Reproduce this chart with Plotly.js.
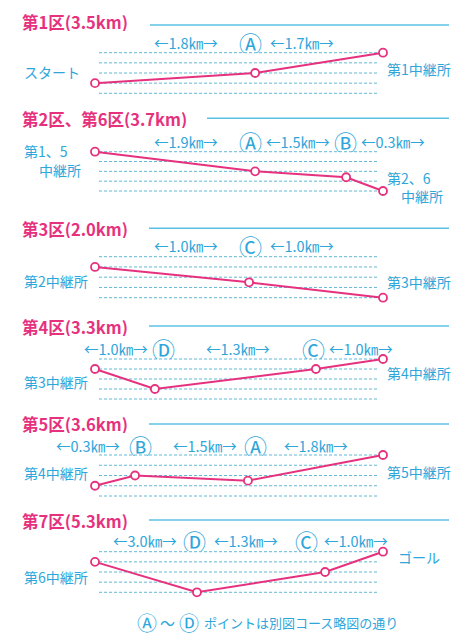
<!DOCTYPE html>
<html><head><meta charset="utf-8">
<script src="https://cdn.plot.ly/plotly-3.0.1.min.js"></script>
<style>html,body{margin:0;padding:0;background:#fff}#chart{width:474px;height:636px}</style>
</head><body><div id="chart"></div>
<script>
// ---- data ----
const sectionTitles = ['第1区(3.5km)', '第2区、第6区(3.7km)', '第3区(2.0km)', '第4区(3.3km)', '第5区(3.6km)', '第7区(5.3km)'];
const levels = [0, 1, 2, 3, 4];
// schematic position along each leg (0 = start, 1 = finish) and elevation level
const pos1 = [0, 0.556, 1];          const elev1 = [1, 2, 4];
const pos2 = [0, 0.556, 0.872, 1];   const elev2 = [4, 2, 1.4, 0];
const pos3 = [0, 0.535, 1];          const elev3 = [3, 1.5, 0];
const pos4 = [0, 0.208, 0.767, 1];   const elev4 = [3, 1, 3, 4];
const pos5 = [0, 0.139, 0.531, 1];   const elev5 = [1, 2, 1.5, 4];
const pos6 = [0, 0.354, 0.799, 1];   const elev6 = [3, 0, 2, 4];
const startLabels = [['スタート'], ['第1、5', '中継所'], ['第2中継所'], ['第3中継所'], ['第4中継所'], ['第6中継所']];
const endLabels = [['第1中継所'], ['第2、6', '中継所'], ['第3中継所'], ['第4中継所'], ['第5中継所'], ['ゴール']];
const segs1 = ['←1.8㎞→', 'Ⓐ', '←1.7㎞→'];
const segs2 = ['←1.9㎞→', 'Ⓐ', '←1.5㎞→', 'Ⓑ', '←0.3㎞→'];
const segs3 = ['←1.0㎞→', 'Ⓒ', '←1.0㎞→'];
const segs4 = ['←1.0㎞→', 'Ⓓ', '←1.3㎞→', 'Ⓒ', '←1.0㎞→'];
const segs5 = ['←0.3㎞→', 'Ⓑ', '←1.5㎞→', 'Ⓐ', '←1.8㎞→'];
const segs6 = ['←3.0㎞→', 'Ⓓ', '←1.3㎞→', 'Ⓒ', '←1.0㎞→'];
const footParts = ['Ⓐ', '〜', 'Ⓓ', 'ポイントは別図コース略図の通り'];

// ---- layout (pixel geometry) ----
const W = 474, H = 636;
const PX = x => x / W, PY = y => 1 - y / H;
const PINK = '#e6317e', BLUE = '#2ea6da', LINEBLUE = '#5cc0e4', DASH = '#62b9d6';
const FONT = '"Noto Sans CJK JP", "Noto Sans", sans-serif';
const panels = [
  {pos: pos1, elev: elev1, segs: segs1, top: 52.7, bot: 93.3, titleY: 22, lineX0: 150, lineY: 25, segY: 42,
   segX: [153, 250, 269], startXY: [[23, 71.7]], endXY: [[386, 69]]},
  {pos: pos2, elev: elev2, segs: segs2, top: 151.7, bot: 191, titleY: 119, lineX0: 207, lineY: 118.3, segY: 140.7,
   segX: [153, 250, 265, 345, 360], startXY: [[23, 151], [38, 169.5]], endXY: [[386, 178], [400, 196]]},
  {pos: pos3, elev: elev3, segs: segs3, top: 256.7, bot: 297.7, titleY: 229, lineX0: 149, lineY: 228.3, segY: 245,
   segX: [153, 250, 269], startXY: [[23, 281]], endXY: [[386, 282]]},
  {pos: pos4, elev: elev4, segs: segs4, top: 359, bot: 399, titleY: 326.7, lineX0: 149, lineY: 326, segY: 348,
   segX: [83, 163, 205, 313, 328], startXY: [[23, 382]], endXY: [[386, 373]]},
  {pos: pos5, elev: elev5, segs: segs5, top: 455, bot: 496, titleY: 424, lineX0: 149, lineY: 424, segY: 445,
   segX: [55, 140, 172, 256, 283], startXY: [[23, 473]], endXY: [[386, 472]]},
  {pos: pos6, elev: elev6, segs: segs6, top: 551.7, bot: 592.3, titleY: 520.7, lineX0: 149, lineY: 520, segY: 540,
   segX: [112, 194, 213, 306, 323], startXY: [[23, 576.7]], endXY: [[397, 556.7]]}
];
const X0 = 95, X1 = 383, GX0 = 99, GX1 = 378, PADX = 8;

const data = [], annotations = [], shapes = [];
const layout = {
  width: W, height: H, margin: {l: 0, r: 0, t: 0, b: 0},
  paper_bgcolor: '#fff', plot_bgcolor: 'rgba(0,0,0,0)', showlegend: false,
  font: {family: FONT}
};
const toU = px => (px - X0) / (X1 - X0);

panels.forEach((p, i) => {
  const n = i + 1, sx = n === 1 ? '' : n;
  const s = (p.bot - p.top) / 4;
  layout['xaxis' + sx] = {
    domain: [PX(X0 - PADX), PX(X1 + PADX)], range: [toU(X0 - PADX), toU(X1 + PADX)],
    visible: false, fixedrange: true, anchor: 'y' + sx
  };
  layout['yaxis' + sx] = {
    domain: [PY(p.bot + s), PY(p.top - s)], range: [-1, 5],
    visible: false, fixedrange: true, anchor: 'x' + sx
  };
  // dashed elevation guide lines
  levels.forEach(lv => {
    shapes.push({type: 'line', xref: 'x' + sx, yref: 'y' + sx, x0: toU(GX0), x1: toU(GX1), y0: lv, y1: lv,
      layer: 'below', line: {color: DASH, width: 1, dash: '3px,2px'}});
  });
  data.push({
    type: 'scatter', mode: 'lines+markers', x: p.pos, y: p.elev,
    xaxis: 'x' + sx, yaxis: 'y' + sx, hoverinfo: 'skip',
    line: {color: PINK, width: 2},
    marker: {symbol: 'circle', size: 8, color: '#fff', line: {color: PINK, width: 1.8}}
  });
  // section title
  annotations.push({text: '<b>' + sectionTitles[i] + '</b>', xref: 'paper', yref: 'paper',
    x: PX(21), y: PY(p.titleY), xanchor: 'left', yanchor: 'middle', showarrow: false,
    height: 18, borderpad: 0, font: {size: 16.5, color: PINK, family: FONT}});
  shapes.push({type: 'line', xref: 'paper', yref: 'paper', x0: PX(p.lineX0), x1: PX(449),
    y0: PY(p.lineY), y1: PY(p.lineY), line: {color: LINEBLUE, width: 1.5}});
  // segment labels
  p.segs.forEach((t, k) => {
    const circ = t.length === 1;
    annotations.push({text: t, xref: 'paper', yref: 'paper', x: PX(p.segX[k]), y: PY(p.segY + (circ ? 0.5 : 0)),
      xanchor: circ ? 'center' : 'left', yanchor: 'middle', showarrow: false, borderpad: 0,
      height: circ ? 21 : 16, font: {size: circ ? 23 : 14.5, color: BLUE, family: FONT}});
  });
  startLabels[i].forEach((t, k) => {
    annotations.push({text: t, xref: 'paper', yref: 'paper', x: PX(p.startXY[k][0]), y: PY(p.startXY[k][1]),
      xanchor: 'left', yanchor: 'middle', showarrow: false, borderpad: 0,
      font: {size: 14, color: BLUE, family: FONT}});
  });
  endLabels[i].forEach((t, k) => {
    annotations.push({text: t, xref: 'paper', yref: 'paper', x: PX(p.endXY[k][0]), y: PY(p.endXY[k][1]),
      xanchor: 'left', yanchor: 'middle', showarrow: false, borderpad: 0,
      font: {size: 14, color: BLUE, family: FONT}});
  });
});

// footnote
const footX = [147, 167, 189, 203], footSize = [20, 15, 20, 13];
footParts.forEach((t, k) => {
  annotations.push({text: t, xref: 'paper', yref: 'paper', x: PX(footX[k]), y: PY(622),
    xanchor: k < 3 ? 'center' : 'left', yanchor: 'middle', showarrow: false, borderpad: 0,
    font: {size: footSize[k], color: BLUE, family: FONT}});
});

layout.annotations = annotations;
layout.shapes = shapes;
Plotly.newPlot('chart', data, layout, {displayModeBar: false, staticPlot: true});
</script></body></html>
